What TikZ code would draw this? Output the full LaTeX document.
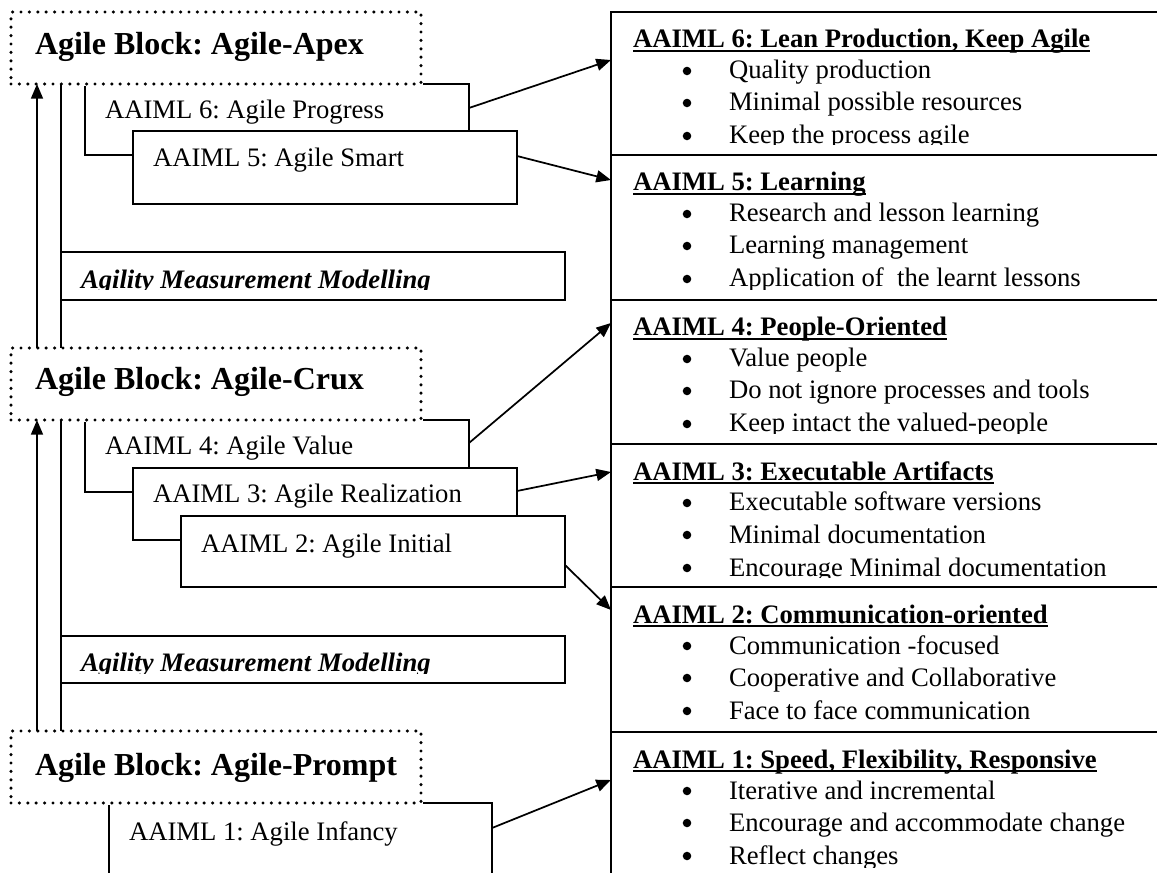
\documentclass[tikz,border=0pt]{standalone}
\usepackage{fontspec}
\setmainfont{Liberation Serif}
\usetikzlibrary{arrows.meta,calc,fit}

\tikzset{
  frame/.style={draw, line width=1.5pt, fill=white, inner sep=0pt, outer sep=0pt},
  blockframe/.style={inner sep=0pt, outer sep=0pt,
    preaction={fill=white, draw=white, solid, line width=2.6pt, line cap=butt},
    draw, line width=2.6pt, line cap=round, dash pattern=on 0pt off 6.3pt},
  conn/.style={line width=1.3pt},
  arr/.style={conn, -{Triangle[length=11pt,width=9pt]}},
  lvl/.style={inner sep=0pt, outer sep=0pt, anchor=base west,
    font=\fontsize{20pt}{24pt}\selectfont},
  blocktitle/.style={lvl, font=\fontsize{24pt}{28pt}\selectfont\bfseries},
  mm/.style={lvl, font=\fontsize{20pt}{24pt}\selectfont\bfseries\itshape},
  head/.style={lvl, font=\fontsize{20pt}{24pt}\selectfont\bfseries},
  bul/.style={circle, fill, inner sep=0pt, outer sep=0pt, minimum size=6.4pt},
  uline/.style={line width=1.1pt},
}

% one cell of the right-hand table: name, top, bottom, heading, three items
\newcommand\aimlcell[7]{%
  \node[frame, fit={(611,#2)(1190,#3)}] (#1) {};
  \begin{scope}
    \clip (#1.north west) rectangle ($(#1.south east)+(0,-10)$);
    \node[head] (#1h) at ($(#1.north west)+(22,36)$) {#4};
    \draw[uline] ($(#1h.base west)+(0,3)$) -- ($(#1h.base east)+(0,3)$);
    \node[bul] (#1ba) at ($(#1.north west)+(76,59)$) {};
    \node[lvl] (#1ia) at ($(#1.north west)+(118,67)$) {#5};
    \node[bul] (#1bb) at ($(#1.north west)+(76,91)$) {};
    \node[lvl] (#1ib) at ($(#1.north west)+(118,99)$) {#6};
    \node[bul] (#1bc) at ($(#1.north west)+(76,124)$) {};
    \node[lvl] (#1ic) at ($(#1.north west)+(118,132)$) {#7};
  \end{scope}
}

\begin{document}
\frenchspacing
\begin{tikzpicture}[x=0.75pt, y=-0.75pt]
\useasboundingbox (0,0) rectangle (1157,873);
\clip (0,0) rectangle (1157,873);

% right-hand table of maturity levels
\aimlcell{c6}{12}{155}{AAIML 6: Lean Production, Keep Agile}{Quality production}{Minimal possible resources}{Keep the process agile}
\aimlcell{c5}{155}{300}{AAIML 5: Learning}{Research and lesson learning}{Learning management}{Application of~ the learnt lessons}
\aimlcell{c4}{300}{444}{AAIML 4: People-Oriented}{Value people}{Do not ignore processes and tools}{Keep intact the valued-people}
\aimlcell{c3}{444}{587}{AAIML 3: Executable Artifacts}{Executable software versions}{Minimal documentation}{Encourage Minimal documentation}
\aimlcell{c2}{587}{732}{AAIML 2: Communication-oriented}{Communication -focused}{Cooperative and Collaborative}{Face to face communication}
\aimlcell{c1}{732}{877}{AAIML 1: Speed, Flexibility, Responsive}{Iterative and incremental}{Encourage and accommodate change}{Reflect changes}

% Agile-Apex block
\node[frame, fit={(85,84)(469,155)}] (b6) {};
\node[lvl] (b6t) at ($(b6.north west)+(20,35)$) {AAIML 6: Agile Progress};
\node[frame, fit={(133,131)(517,204)}] (b5) {};
\node[lvl] (b5t) at ($(b5.north west)+(20,36)$) {AAIML 5: Agile Smart};
\node[blockframe, fit={(11,12)(421,84)}] (apex) {};
\node[blocktitle] (apext) at (35,55) {Agile Block: Agile-Apex};

% measurement between Crux and Apex
\node[frame, fit={(61,252)(565,300)}] (m1) {};
\begin{scope}
  \clip (m1.north west) rectangle ($(m1.south east)+(0,-10)$);
  \node[mm] (m1t) at ($(m1.south west)+(20,-11.5)$) {Agility Measurement Modelling};
\end{scope}

% Agile-Crux block
\node[frame, fit={(85,420)(469,492)}] (b4) {};
\node[lvl] (b4t) at ($(b4.north west)+(20,35)$) {AAIML 4: Agile Value};
\node[frame, fit={(133,468)(517,540)}] (b3) {};
\node[lvl] (b3t) at ($(b3.north west)+(20,35)$) {AAIML 3: Agile Realization};
\node[frame, fit={(181,516)(565,587)}] (b2) {};
\node[lvl] (b2t) at ($(b2.north west)+(20,36)$) {AAIML 2: Agile Initial};
\node[blockframe, fit={(11,348)(421,420)}] (crux) {};
\node[blocktitle] (cruxt) at (35,390) {Agile Block: Agile-Crux};

% measurement between Prompt and Crux
\node[frame, fit={(61,636)(565,683)}] (m2) {};
\begin{scope}
  \clip (m2.north west) rectangle ($(m2.south east)+(0,-10)$);
  \node[mm] (m2t) at ($(m2.south west)+(20,-11.5)$) {Agility Measurement Modelling};
\end{scope}

% Agile-Prompt block
\node[frame, fit={(109,803)(492,900)}] (b1) {};
\node[lvl] (b1t) at ($(b1.north west)+(20,37)$) {AAIML 1: Agile Infancy};
\node[blockframe, fit={(11,731)(421,803)}] (prompt) {};
\node[blocktitle] (promptt) at (35,775) {Agile Block: Agile-Prompt};

% progression between blocks
\draw[arr] ($(crux.north west)+(26,0)$) -- ($(apex.south west)+(26,0)$);
\draw[conn] (apex.south -| m1.west) -- (m1.north west);
\draw[conn] (m1.south west) -- (crux.north -| m1.west);
\draw[arr] ($(prompt.north west)+(26,0)$) -- ($(crux.south west)+(26,0)$);
\draw[conn] (crux.south -| m2.west) -- (m2.north west);
\draw[conn] (m2.south west) -- (prompt.north -| m2.west);

% levels to their descriptions
\draw[arr] ($(b6.north east)+(0,24)$) -- ($(c6.north west)+(0,48)$);
\draw[arr] ($(b5.north east)+(0,25)$) -- ($(c5.north west)+(0,25)$);
\draw[arr] ($(b4.north east)+(0,23)$) -- ($(c4.north west)+(0,23)$);
\draw[arr] ($(b3.north east)+(0,23)$) -- ($(c3.north west)+(0,28)$);
\draw[arr] ($(b2.north east)+(0,49)$) -- ($(c2.north west)+(0,23)$);
\draw[arr] ($(b1.north east)+(0,25)$) -- ($(c1.north west)+(0,48)$);
\end{tikzpicture}
\end{document}
